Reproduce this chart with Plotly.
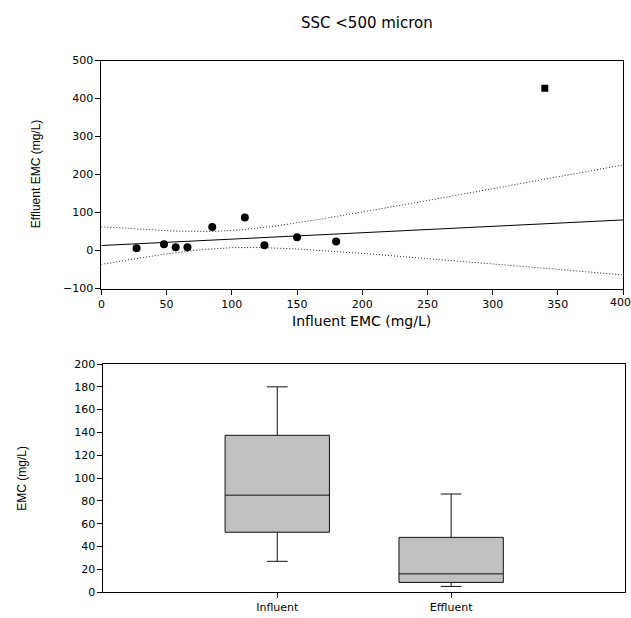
import numpy as np
import plotly.graph_objects as go

# ---------------- data ----------------
influent = [27, 48, 57, 66, 85, 110, 125, 150, 180]
effluent = [6, 17, 9, 9, 62, 87, 14, 35, 24]
outlier_x = [340]
outlier_y = [427]

box_names = ["Influent", "Effluent"]
box_q1 = [52.5, 8.5]
box_median = [85, 16]
box_q3 = [137.5, 48]
box_low = [27, 5]
box_high = [180, 86]

x_ticks = [0, 50, 100, 150, 200, 250, 300, 350, 400]
title_text = "SSC <500 micron"
top_xtitle = "Influent EMC (mg/L)"
top_ytitle = "Effluent EMC (mg/L)"
bot_ytitle = "EMC (mg/L)"

# ---------------- regression + 95% CI ----------------
x = np.array(influent, float)
y = np.array(effluent, float)
n = len(x)
slope, intercept = np.polyfit(x, y, 1)
resid = y - (slope * x + intercept)
s = np.sqrt(np.sum(resid ** 2) / (n - 2))
tcrit = 2.365
xs = np.linspace(0, 400, 201)
yfit = intercept + slope * xs
se = s * np.sqrt(1 / n + (xs - x.mean()) ** 2 / np.sum((x - x.mean()) ** 2))
upper = yfit + tcrit * se
lower = yfit - tcrit * se

W, H = 631, 618
tick_family = "DejaVu Sans, Liberation Sans, Arial"
tick_font = dict(family=tick_family, size=11, color="black")
narrow = "Liberation Sans, Arial"

fig = go.Figure()

# top scatter
fig.add_trace(go.Scatter(x=xs, y=upper, mode="lines", line=dict(color="#222", width=1, dash="1px,2px"),
                         xaxis="x", yaxis="y", showlegend=False, hoverinfo="skip"))
fig.add_trace(go.Scatter(x=xs, y=lower, mode="lines", line=dict(color="#222", width=1, dash="1px,2px"),
                         xaxis="x", yaxis="y", showlegend=False, hoverinfo="skip"))
fig.add_trace(go.Scatter(x=xs, y=yfit, mode="lines", line=dict(color="black", width=1),
                         xaxis="x", yaxis="y", showlegend=False))
fig.add_trace(go.Scatter(x=influent, y=effluent, mode="markers",
                         marker=dict(symbol="circle", size=8, color="black"),
                         xaxis="x", yaxis="y", showlegend=False))
fig.add_trace(go.Scatter(x=outlier_x, y=outlier_y, mode="markers",
                         marker=dict(symbol="square", size=7, color="black"),
                         xaxis="x", yaxis="y", showlegend=False))

# bottom box plot
for i, name in enumerate(box_names):
    fig.add_trace(go.Box(x=[name], q1=[box_q1[i]], median=[box_median[i]], q3=[box_q3[i]],
                         lowerfence=[box_low[i]], upperfence=[box_high[i]],
                         fillcolor="#c0c0c0", line=dict(color="#111", width=1),
                         width=0.6, whiskerwidth=0.2, boxpoints=False,
                         xaxis="x2", yaxis="y2", showlegend=False, name=name))

axis_common = dict(showline=True, linecolor="black", linewidth=1, mirror=True,
                   showgrid=False, zeroline=False, ticks="outside", ticklen=5,
                   tickcolor="black", tickwidth=1, tickfont=tick_font)

# last x tick label would overflow the page edge: draw it right-aligned at the page edge
x_ticktext = [str(v) for v in x_ticks[:-1]] + [""]

fig.update_layout(
    width=W, height=H,
    margin=dict(l=0, r=0, t=0, b=0),
    paper_bgcolor="white", plot_bgcolor="white",
    xaxis=dict(domain=[98 / W, 623 / W], range=[0, 400], tickmode="array",
               tickvals=x_ticks, ticktext=x_ticktext, anchor="y", **axis_common),
    yaxis=dict(domain=[1 - 288.7 / H, 1 - 55.7 / H], range=[-100, 500], dtick=100, anchor="x", **axis_common),
    xaxis2=dict(domain=[100 / W, 625 / W], type="category", range=[-1, 2], anchor="y2",
                categoryorder="array", categoryarray=box_names, **axis_common),
    yaxis2=dict(domain=[1 - 598.7 / H, 1 - 365.7 / H], range=[0, 200], dtick=20, anchor="x2", **axis_common),
    annotations=[
        dict(text=title_text, x=365 / W, y=1 - 17 / H, xref="paper", yref="paper",
             showarrow=False, xanchor="center", yanchor="middle",
             font=dict(family=tick_family, size=15, color="black")),
        dict(text=top_xtitle, x=360 / W, y=1 - 322 / H, xref="paper", yref="paper",
             showarrow=False, xanchor="center", yanchor="middle",
             font=dict(family=tick_family, size=14, color="black")),
        dict(text=top_ytitle, x=33 / W, y=1 - 172 / H, xref="paper", yref="paper",
             showarrow=False, xanchor="center", yanchor="middle", textangle=-90,
             font=dict(family=narrow, size=12, color="black")),
        dict(text=bot_ytitle, x=18 / W, y=1 - 482 / H, xref="paper", yref="paper",
             showarrow=False, xanchor="center", yanchor="middle", textangle=-90,
             font=dict(family=narrow, size=12, color="black")),
        dict(text=str(x_ticks[-1]), x=1, y=1 - 288.7 / H, xref="paper", yref="paper",
             showarrow=False, xanchor="right", yanchor="top", yshift=-6,
             borderpad=0, xshift=1, font=tick_font),
    ],
)

fig.write_html("out.html")
